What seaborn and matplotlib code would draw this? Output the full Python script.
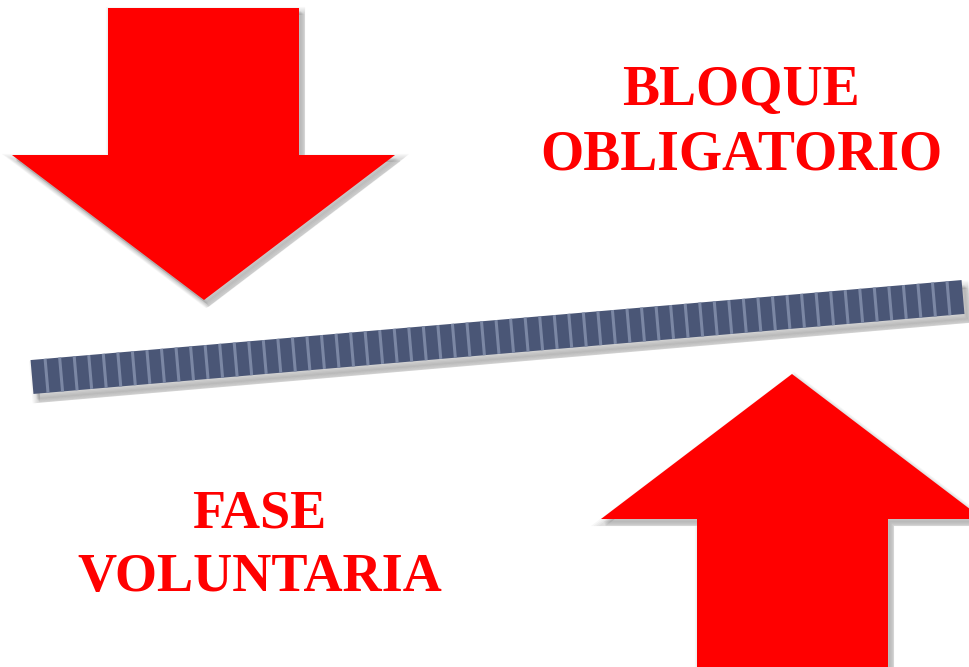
import numpy as np
import matplotlib
matplotlib.use("Agg")
import matplotlib.pyplot as plt
from matplotlib.patches import Polygon
import seaborn as sns

# --- shapes and labels (pixel space of the 969x667 picture) ---
down_arrow = [(108, 8), (299, 8), (299, 155), (395, 155), (204, 300), (12, 155), (108, 155)]
up_arrow = [(697, 680), (697, 519), (601, 519), (792, 374), (983, 519), (888, 519), (888, 680)]
bar_start = (32, 377)
bar_end = (963, 297)
bar_width = 34
n_stripes = 64
top_label = ["BLOQUE", "OBLIGATORIO"]
top_label_pos = [(741, 91), (741, 156)]
bottom_label = ["FASE", "VOLUNTARIA"]
bottom_label_pos = [(259, 514), (260, 578)]

red = "#ff0000"
bar_color = "#4a5676"
stripe_color = "#7b87a4"

sns.set_theme(style="white")
plt.rcParams["font.family"] = ["Liberation Serif", "DejaVu Serif"]

fig = plt.figure(figsize=(9.69, 6.67), dpi=100)
ax = fig.add_axes([0, 0, 1, 1])
ax.set_xlim(0, 969)
ax.set_ylim(667, 0)
ax.axis("off")


def soft_shadow(pts, dx, dy, ax):
    pts = np.asarray(pts, dtype=float)
    for k in range(6):
        off = pts + np.array([dx + k * 0.6, dy + k * 0.6])
        ax.add_patch(Polygon(off, closed=True, facecolor="black",
                             edgecolor="black", lw=6 - k, alpha=0.03, zorder=1))


# arrows
for shape in [down_arrow, up_arrow]:
    soft_shadow(shape, 2, 3, ax)
    ax.add_patch(Polygon(shape, closed=True, facecolor=red, edgecolor="none", zorder=2))

# tilted striped bar
p0 = np.array(bar_start, dtype=float)
p1 = np.array(bar_end, dtype=float)
d = (p1 - p0) / np.linalg.norm(p1 - p0)
nrm = np.array([-d[1], d[0]])  # points downward in screen coords
half = bar_width / 2
corners = [p0 - nrm * half, p1 - nrm * half, p1 + nrm * half, p0 + nrm * half]
soft_shadow(corners, 3, 5, ax)
ax.add_patch(Polygon(corners, closed=True, facecolor=bar_color, edgecolor="none", zorder=3))

ts = np.linspace(0, 1, n_stripes + 1)[1:-1]
for t in ts:
    c = p0 + (p1 - p0) * t
    a = c - nrm * half
    b = c + nrm * half
    ax.plot([a[0], b[0]], [a[1], b[1]], color=stripe_color, lw=2.2, zorder=4,
            solid_capstyle="butt")

# labels
sizes = [40, 40, 39, 39]
for txt, (x, y), fs in zip(top_label + bottom_label, top_label_pos + bottom_label_pos, sizes):
    ax.text(x, y, txt, color=red, fontsize=fs, fontweight="bold",
            ha="center", va="center", zorder=5)

fig.savefig("out.png", dpi=100)
